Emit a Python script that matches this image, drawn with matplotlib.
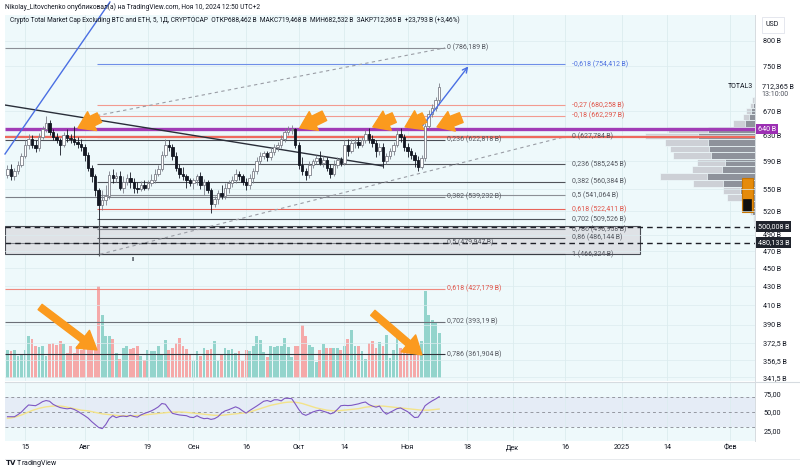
import numpy as np
import pandas as pd
import matplotlib
matplotlib.use("Agg")
import matplotlib.pyplot as plt
from matplotlib.patches import Rectangle
import matplotlib.transforms as mtrans
from matplotlib.ticker import FixedLocator, NullLocator

plt.rcParams['font.family'] = ['Roboto', 'DejaVu Sans']

# ---------------- data ----------------
start = pd.Timestamp('2024-07-10')
first_open = 570.0
closes = [578, 568, 575, 585, 598, 615, 625, 615, 610, 628,
          640, 650, 635, 628, 622, 615, 630, 626, 624, 620,
          616, 612, 600, 580, 568, 548, 528, 535, 540, 570,
          565, 568, 552, 560, 566, 560, 552, 550, 556, 552,
          558, 562, 572, 578, 600, 615, 612, 598, 580, 572,
          568, 562, 558, 562, 568, 555, 560, 548, 530, 536,
          545, 540, 552, 558, 562, 572, 568, 560, 555, 565,
          575, 590, 598, 602, 596, 604, 612, 615, 625, 635,
          638, 640, 615, 585, 575, 570, 585, 590, 595, 588,
          592, 580, 572, 585, 592, 588, 615, 605, 618, 620,
          615, 622, 632, 625, 618, 605, 612, 590, 598, 605,
          615, 632, 628, 612, 605, 600, 592, 582, 595, 645,
          665, 675, 688.462, 712.365]
highs = [584, 586, 580, 590, 602, 622, 632, 630, 622, 634,
         645, 662, 655, 640, 634, 626, 636, 640, 632, 645,
         628, 624, 616, 604, 585, 572, 552, 548, 556, 575,
         578, 574, 576, 568, 572, 574, 566, 560, 561, 562,
         563, 572, 578, 584, 606, 624, 622, 616, 604, 586,
         582, 572, 566, 566, 572, 574, 564, 563, 552, 540,
         548, 556, 558, 562, 568, 578, 576, 572, 565, 572,
         580, 596, 604, 606, 605, 612, 617, 620, 630, 642,
         645, 646, 642, 620, 596, 580, 590, 594, 600, 605,
         598, 596, 586, 592, 596, 597, 622, 624, 624, 626,
         628, 628, 638, 642, 630, 622, 618, 618, 602, 610,
         620, 640, 642, 632, 618, 610, 604, 598, 600, 650,
         672, 682, 695, 719.468]
lows = [566, 562, 563, 572, 582, 595, 608, 610, 604, 606,
        625, 636, 630, 622, 618, 600, 612, 620, 618, 615,
        610, 605, 590, 575, 560, 540, 508, 522, 528, 536,
        558, 560, 548, 545, 555, 552, 545, 545, 547, 548,
        548, 554, 558, 568, 575, 596, 606, 592, 575, 565,
        562, 552, 554, 550, 556, 550, 542, 544, 518, 526,
        530, 536, 536, 545, 553, 558, 563, 555, 548, 550,
        558, 572, 586, 594, 590, 592, 600, 605, 610, 620,
        630, 632, 610, 578, 570, 562, 566, 580, 586, 584,
        582, 575, 566, 568, 580, 583, 585, 598, 602, 610,
        610, 612, 618, 618, 612, 596, 600, 580, 586, 594,
        600, 612, 620, 605, 596, 594, 582, 575, 578, 590,
        640, 660, 670, 682.532]
volumes = [28.3, 27.3, 28.3, 22.3, 23.3, 28.3, 41.7, 39.3, 32.3, 31.0,
           32.3, 22.3, 34.3, 35.0, 32.7, 37.3, 34.3, 25.0, 31.7, 25.0,
           32.3, 28.3, 31.7, 32.3, 31.7, 28.3, 91.7, 62.7, 42.3, 42.3,
           39.3, 25.0, 19.0, 30.0, 32.3, 29.0, 30.0, 31.7, 22.3, 18.3,
           28.3, 27.3, 26.7, 31.7, 24.3, 38.3, 27.7, 30.0, 35.0, 40.0,
           32.3, 29.0, 24.3, 16.7, 26.7, 21.7, 30.0, 27.7, 29.0, 37.3,
           16.7, 23.3, 30.0, 27.7, 29.3, 25.0, 27.3, 16.7, 27.7, 27.0,
           32.3, 42.3, 38.3, 25.7, 21.0, 31.7, 31.0, 32.3, 31.7, 40.0,
           31.0, 21.0, 32.3, 31.7, 53.3, 41.7, 33.3, 31.0, 15.7, 28.3,
           34.3, 30.0, 30.0, 30.0, 30.0, 27.7, 31.7, 39.3, 48.3, 31.7,
           32.3, 27.3, 19.0, 35.0, 37.3, 30.0, 35.7, 32.3, 42.7, 20.0,
           27.7, 41.7, 30.0, 28.3, 28.3, 28.3, 28.3, 28.3, 36.7, 86.7,
           63.3, 58.3, 55.0, 45.0]
rsi = [43.6, 43.6, 43.6, 46.5, 50, 55, 59.5, 59, 58.5, 61,
       64, 65.5, 64.5, 60.4, 58, 56, 55, 54.3, 55, 53.5,
       51, 48, 45, 41.7, 37, 33, 29, 27.5, 33, 41,
       45, 42.4, 44, 44.5, 43.8, 45.5, 44, 43, 46, 48,
       49.7, 51.5, 54, 57, 61.5, 60.5, 54, 48.2, 47, 46,
       45.5, 45, 43, 42.5, 45, 42.5, 41, 41.5, 40, 41,
       43.7, 48.5, 51.5, 53, 55, 57, 55, 51.5, 48.5, 52,
       55, 58, 61.2, 64.5, 65.5, 64, 66.5, 66.5, 65, 68.5,
       68.5, 68, 61, 53.5, 47.5, 45.5, 47.5, 50, 51.5, 52.5,
       51, 49.5, 47.5, 49, 53.5, 58.5, 59, 58.7, 59, 60,
       61, 62.5, 63.5, 60, 58, 56.5, 58, 51, 47, 49.5,
       52, 54.5, 55.5, 53, 50.5, 46.5, 42.5, 43, 50, 58.5,
       62, 65, 67.6, 70.7]
rsi_ma = [41.5, 42, 43, 44.5, 46, 48, 50, 52, 53.5, 55,
          56, 57, 57.5, 58, 58.2, 58, 57.5, 56.5, 55.5, 54.5,
          53.5, 52.5, 52, 51.5, 50.5, 49.5, 48.5, 47.5, 47, 46.5,
          46, 45.5, 45, 45, 44.8, 44.8, 45, 45.2, 45.5, 46,
          46.5, 47, 47.5, 48, 48.5, 49, 49.5, 49.8, 50, 50,
          49.8, 49.5, 49, 48.5, 48, 47.5, 47, 46.5, 46, 45.5,
          45.5, 45.5, 46, 46.5, 47, 47.5, 48, 48.5, 49, 50,
          51.5, 53, 54.5, 56, 57.5, 59, 60, 61, 62, 62.8,
          63.3, 63.5, 63.2, 62.5, 61.5, 60, 58.5, 57, 55.5, 54.5,
          53.5, 52.5, 52, 51.5, 51.5, 52, 52.5, 53, 53.5, 54,
          54.5, 55.5, 56.5, 57, 57.5, 58, 58, 58, 57.5, 57,
          56.5, 56, 55.5, 55, 54.5, 54, 53.5, 53, 52.5, 52.5,
          52.5, 53, 53.5, 54]

tick_dates = ['2024-07-15', '2024-08-01', '2024-08-19', '2024-09-01', '2024-09-16',
              '2024-10-01', '2024-10-14', '2024-11-01', '2024-11-18', '2024-12-01',
              '2024-12-16', '2025-01-01', '2025-01-14', '2025-02-01']
tick_labels = ['15', 'Авг', '19', 'Сен', '16', 'Окт', '14', 'Ноя', '18', 'Дек',
               '16', '2025', '14', 'Фев']
price_ticks = [800, 750, 670, 630, 590, 550, 520, 490, 470, 450, 430, 410, 390,
               372.5, 356.5, 341.5]
rsi_ticks = [75, 50, 25]

fib1_levels = [-0.618, -0.27, -0.18, 0, 0.236, 0.382, 0.5, 0.618, 0.702, 0.786, 0.86, 1]
fib1_prices = [754.412, 680.258, 662.297, 627.784, 585.245, 560.384, 541.064,
               522.411, 509.526, 496.958, 486.144, 466.324]
fib2_levels = [0, 0.236, 0.382, 0.5, 0.618, 0.702, 0.786]
fib2_prices = [786.189, 622.818, 539.232, 479.947, 427.179, 393.19, 361.904]

purple_level = 640.0
red_level = 627.784
dash_levels = [500.008, 480.133]
box_low, box_high = 467.0, 501.0
last_price = 712.365

vp_edges = [694.2, 683.8, 675.2, 665.0, 655.0, 643.5, 633.8, 624.2, 613.3, 604.0,
            593.4, 583.0, 572.7, 562.7, 552.8, 543.1, 533.5, 524.2, 515.0, 505.9, 497.0]
vp_total = [3, 5, 9, 12, 22, 87, 110, 90, 85, 82, 58, 63, 95, 62, 32, 28, 13, 5, 2, 1.5]
vp_dark = [1.5, 2.5, 4, 6, 10, 47, 57, 47, 46, 44, 30, 33, 48, 32, 15, 12, 6, 3, 1, 0.8]

# drawings (day index, price)
trend_black = [(-0.7, 680.3), (107.0, 583.0)]
trend_blue = [(-0.7, 601.0), (29.2, 883.0)]
arrow_blue = [(117.5, 640.0), (131.8, 754.412)]
dash_low = [(26.4, 466.324), (158.8, 627.784)]
dash_up = [(25.5, 662.297), (124.7, 786.189)]
price_arrows = [((26.2, 659), (20.1, 642)), ((90.3, 662), (83.3, 642)),
                ((110.2, 659), (104.1, 643.5)), ((118.8, 659), (113.3, 643.5)),
                ((129.3, 659), (122.4, 643.5))]
vol_arrows = [((9.3, 408), (25.5, 366)), ((104.1, 402), (118.1, 361.4))]

# ---------------- derived ----------------
closes = np.array(closes, float)
highs = np.array(highs, float)
lows = np.array(lows, float)
opens = np.concatenate([[first_open], closes[:-1]])
n = len(closes)
x = np.arange(n)
up = closes >= opens
tick_pos = [(pd.Timestamp(d) - start).days for d in tick_dates]

def fmt_num(v):
    s = ('%.3f' % v).rstrip('0').rstrip('.')
    return s.replace('.', ',')

def fmt_lvl(v):
    return ('%g' % v).replace('.', ',')

BG = '#eef9fb'
GRID = '#dcecef'
TXT = '#131722'
XL = (-0.7, 213.0)

W, H = 800, 469
fig = plt.figure(figsize=(8, 4.69), dpi=100, facecolor='white')

def fxy(px, py):
    return px / W, 1 - py / H

Lp, Rp = 5, 755
ax_vol = fig.add_axes([Lp / W, 1 - 381 / H, (Rp - Lp) / W, (381 - 15) / H])
ax = ax_vol.twinx()
ax_vp = ax.twiny()
ax_vol.set_zorder(0)
ax_vp.set_zorder(1)
ax.set_zorder(2)
ax_vol.patch.set_visible(True)
ax_vol.patch.set_facecolor(BG)
ax.patch.set_visible(False)
ax_vp.patch.set_visible(False)

# volume
ax_vol.bar(x, volumes, width=0.8, color=np.where(up, '#93d4cc', '#f5a9a9'), linewidth=0)
ax_vol.set_ylim(-3, 363)
ax_vol.set_xlim(*XL)
ax_vol.set_yticks([])
ax_vol.xaxis.set_major_locator(FixedLocator(tick_pos))
ax_vol.tick_params(axis='x', length=0, labelbottom=False)
ax_vol.grid(axis='x', color=GRID, lw=0.6)
for sp in ax_vol.spines.values():
    sp.set_visible(False)

# price axis
ax.set_yscale('log')
ax.set_ylim(338.3, 854.4)
ax.set_xlim(*XL)
ax.yaxis.set_major_locator(FixedLocator(price_ticks))
ax.yaxis.set_minor_locator(NullLocator())
ax.set_yticklabels([fmt_num(p) + '\u2009B' for p in price_ticks])
ax.yaxis.tick_right()
ax.tick_params(axis='y', length=0, pad=6, labelsize=5.2, labelcolor=TXT)
ax.grid(axis='y', color=GRID, lw=0.5)
for sp in ['top', 'left', 'bottom']:
    ax.spines[sp].set_visible(False)
ax.spines['right'].set_color('#d6dbe0')
ax.spines['right'].set_linewidth(0.7)

# volume profile (distance from right edge)
ax_vp.set_xlim(Rp - Lp, 0)
ax_vp.set_xticks([])
for sp in ax_vp.spines.values():
    sp.set_visible(False)
for k in range(len(vp_total)):
    lo, hi = vp_edges[k + 1], vp_edges[k]
    ax_vp.barh(lo, vp_total[k], height=hi - lo, align='edge', left=0,
               color='#cdd0d6', edgecolor=BG, linewidth=0.5)
    ax_vp.barh(lo, vp_dark[k], height=hi - lo, align='edge', left=0,
               color='#8e929b', edgecolor=BG, linewidth=0.5)
ax_vp.add_patch(Rectangle((1.7, 518.6), 11.6, 565.5 - 518.6, facecolor='#e58b0b',
                          edgecolor='#c77400', lw=0.8))
ax_vp.add_patch(Rectangle((4.3, 520.5), 7.7, 536.4 - 520.5, facecolor='#111111',
                          edgecolor='#111111', lw=0.5))

# box
ax.add_patch(Rectangle((XL[0], box_low), 180.9, box_high - box_low,
                       facecolor='#dfe2e6', edgecolor='#4a4d55', lw=0.8, zorder=1))

# fib set 2 (labels at left-middle)
f2_col = ['#8c8f96', '#4b4e56', '#7c7f87', '#7c7f87', '#f0897e', '#6c6f77', '#2f323a']
f2_x0, f2_x1 = XL[0], 124.7
for lv, p, c in zip(fib2_levels, fib2_prices, f2_col):
    ax.hlines(p, f2_x0, f2_x1, color=c, lw=0.8, zorder=2)
    tc = '#e0554a' if c == '#f0897e' else '#555860'
    ax.text(f2_x1 + 0.6, p, f'{fmt_lvl(lv)} ({fmt_num(p)}\u2009B)', fontsize=5.0,
            color=tc, va='center', ha='left', zorder=6)

# fib set 1
f1_col = ['#6f8fe8', '#f29b90', '#f29b90', '#505359', '#505359', '#505359', '#8c8f96',
          '#e8645a', '#505359', '#7c7f87', '#505359', '#3a3d44']
f1_txt = ['#4f72e0', '#e0554a', '#e0554a', '#555860', '#555860', '#555860', '#555860',
          '#e0554a', '#555860', '#555860', '#555860', '#555860']
f1_x0, f1_x1 = 25.5, 158.8
for lv, p, c, tc in zip(fib1_levels, fib1_prices, f1_col, f1_txt):
    ax.hlines(p, f1_x0, f1_x1, color=c, lw=0.8, zorder=2)
    ax.text(f1_x1 + 2.0, p, f'{fmt_lvl(lv)} ({fmt_num(p)}\u2009B)', fontsize=5.0,
            color=tc, va='center', ha='left', zorder=6)

# dashed full-width levels
for p in dash_levels:
    ax.hlines(p, XL[0], XL[1], color='#1e2028', lw=1.0, linestyles=(0, (4, 3)), zorder=3)
# red and purple levels
ax.hlines(red_level, XL[0], XL[1], color='#ee6a5e', lw=1.6, zorder=3)
ax.hlines(purple_level, XL[0], XL[1], color='#a13cb6', lw=2.4, zorder=3)

# trend lines
ax.plot(*zip(*trend_black), color='#2a2e39', lw=1.0, zorder=3)
ax.plot(*zip(*trend_blue), color='#4a6fe3', lw=1.0, zorder=3, clip_on=False)
ax.plot(*zip(*dash_low), color='#9a9da5', lw=0.8, ls=(0, (3, 3)), zorder=2)
ax.plot(*zip(*dash_up), color='#9a9da5', lw=0.8, ls=(0, (3, 3)), zorder=2)
ax.annotate('', xy=arrow_blue[1], xytext=arrow_blue[0],
            arrowprops=dict(arrowstyle='->', color='#4a6fe3', lw=1.0, mutation_scale=9),
            zorder=7)
ax.vlines(26.1, 464.5, lows[26], color='#55585f', lw=0.8, zorder=3)
ax.text(35.8, 460.6, 'II', fontsize=4.5, color=TXT, ha='center', va='center')

# candles
wick_c = np.where(up, '#7d808a', '#131722')
ax.vlines(x, lows, highs, colors=wick_c, lw=0.6, zorder=4)
body_lo = np.minimum(opens, closes)
body_h = np.maximum(np.abs(closes - opens), 0.8)
ax.bar(x[up], body_h[up], bottom=body_lo[up], width=0.7, facecolor='white',
       edgecolor='#7d808a', lw=0.6, zorder=5)
ax.bar(x[~up], body_h[~up], bottom=body_lo[~up], width=0.7, facecolor='#131722',
       edgecolor='#131722', lw=0.6, zorder=5)

# orange arrows
ORANGE = '#fb9a1e'
for tail, tip in price_arrows:
    ax.annotate('', xy=tip, xytext=tail,
                arrowprops=dict(arrowstyle='simple,head_length=0.75,head_width=1.0,tail_width=0.5',
                                color=ORANGE, mutation_scale=15, shrinkA=0, shrinkB=0), zorder=8)
for tail, tip in vol_arrows:
    ax.annotate('', xy=tip, xytext=tail,
                arrowprops=dict(arrowstyle='simple,head_length=0.8,head_width=1.0,tail_width=0.3',
                                color=ORANGE, mutation_scale=16, shrinkA=0, shrinkB=0), zorder=8)

# price-scale labels
blend = mtrans.blended_transform_factory(ax.transAxes, ax.transData)
ax.text(1.004, purple_level, '640\u2009B', transform=blend, fontsize=5.2, color='white',
        va='center', ha='left', zorder=10, clip_on=False,
        bbox=dict(boxstyle='square,pad=0.25', fc='#9c2fb3', ec='none'))
for p in dash_levels:
    ax.text(1.004, p, fmt_num(p) + '\u2009B', transform=blend, fontsize=5.2, color='white',
            va='center', ha='left', zorder=10, clip_on=False,
            bbox=dict(boxstyle='square,pad=0.25', fc='#1f232c', ec='none'))
ax.text(1.009, last_price, fmt_num(last_price) + '\u2009B', transform=blend, fontsize=5.2,
        color=TXT, va='center', ha='left', clip_on=False)
ax.text(1.009, last_price * 0.981, '13:10:00', transform=blend, fontsize=5.0,
        color='#50535e', va='center', ha='left', clip_on=False)
ax.text(0.998, last_price, 'TOTAL3', transform=blend, fontsize=5.0,
        color=TXT, va='center', ha='right', clip_on=False)

# ---------------- RSI pane ----------------
ax_r = fig.add_axes([Lp / W, 1 - 441 / H, (Rp - Lp) / W, (441 - 383) / H])
ax_r.set_facecolor(BG)
ax_r.set_xlim(*XL)
ax_r.set_ylim(10.8, 89.2)
ax_r.axhspan(30, 70, color='#7e57c2', alpha=0.08, lw=0)
for lvl in (70, 50, 30):
    ax_r.axhline(lvl, color='#9598a1', lw=0.7, ls=(0, (3, 3)))
ax_r.plot(x, rsi_ma, color='#f3e38a', lw=1.0)
ax_r.plot(x, rsi, color='#7e57c2', lw=0.8)
ax_r.xaxis.set_major_locator(FixedLocator(tick_pos))
ax_r.set_xticklabels(tick_labels)
ax_r.tick_params(axis='x', length=0, pad=2.5, labelsize=5.2, labelcolor=TXT)
ax_r.yaxis.set_major_locator(FixedLocator(rsi_ticks))
ax_r.set_yticklabels(['%d,00' % v for v in rsi_ticks])
ax_r.yaxis.tick_right()
ax_r.tick_params(axis='y', length=0, pad=6, labelsize=5.2, labelcolor=TXT)
ax_r.grid(axis='x', color=GRID, lw=0.6)
for sp in ['top', 'left', 'bottom']:
    ax_r.spines[sp].set_visible(False)
ax_r.spines['right'].set_color('#d6dbe0')
ax_r.spines['right'].set_linewidth(0.7)

# separators
fig.add_artist(plt.Line2D([Lp / W, 1], [1 - 382 / H] * 2, color='#d6dbe0', lw=0.8))
fig.add_artist(plt.Line2D([Lp / W, 1], [1 - 459 / H] * 2, color='#e3e6ea', lw=0.6))

# ---------------- texts ----------------
fig.text(*fxy(5, 7), 'Nikolay_Litovchenko опубликовал(а) на TradingView.com, Ноя 10, 2024 12:50 UTC+2',
         fontsize=4.8, color=TXT, va='center', ha='left')
fig.text(*fxy(10, 20), 'Crypto Total Market Cap Excluding BTC and ETH, 5, 1Д, CRYPTOCAP  '
         'ОТКР688,462\u2009B  МАКС719,468\u2009B  МИН682,532\u2009B  ЗАКР712,365\u2009B  '
         '+23,793\u2009B (+3,46%)', fontsize=4.7, color=TXT, va='center', ha='left')
fig.text(*fxy(766, 25), 'USD', fontsize=5.0, color=TXT, va='center', ha='left',
         bbox=dict(boxstyle='square,pad=0.6', fc='white', ec='#e0e3eb', lw=0.6))
fig.text(*fxy(5, 463), r'$\mathbf{TV}$ TradingView', fontsize=5.0, color=TXT,
         va='center', ha='left')

fig.savefig('out.png', dpi=100, facecolor='white')
